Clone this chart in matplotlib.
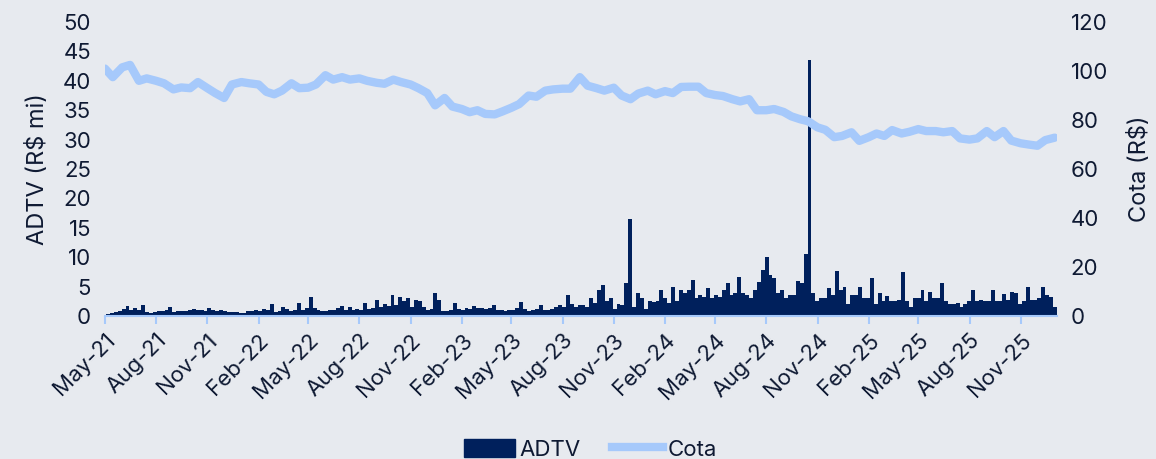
import matplotlib
matplotlib.use("Agg")
import matplotlib.pyplot as plt
import matplotlib.dates as mdates
from matplotlib.lines import Line2D
from matplotlib.patches import Patch
import pandas as pd

BG = "#e7eaef"
NAVY = "#00205c"
LIGHT = "#a6c9fb"
TXT = "#0f1a33"

# ADTV (R$ mi), weekly, from first week of May-21
adtv = [
    0.4, 0.5, 0.7, 0.8, 1.2, 1.7, 1.0, 1.3, 1.1, 1.9, 0.6, 0.5, 0.7,
    0.9, 0.8, 1.0, 1.5, 0.7, 0.8, 0.9, 0.8, 1.1, 1.2, 1.0, 1.1, 0.9,
    1.3, 1.0, 0.9, 1.1, 0.9, 0.7, 0.6, 0.7, 0.5, 0.5, 0.8, 0.9, 1.0,
    0.9, 1.2, 1.0, 2.0, 0.6, 0.8, 1.5, 1.2, 0.9, 1.0, 2.2, 1.0, 1.3,
    3.3, 1.3, 1.0, 0.8, 0.9, 1.1, 1.0, 1.3, 1.7, 1.0, 1.5, 1.1, 1.2,
    1.0, 2.2, 1.2, 1.3, 2.8, 1.5, 2.0, 1.7, 3.6, 1.8, 3.2, 2.5, 3.0,
    1.5, 2.8, 2.6, 1.5, 1.0, 1.2, 4.0, 2.8, 0.8, 0.9, 1.0, 2.2, 1.2,
    1.1, 1.3, 1.2, 1.7, 1.3, 1.4, 1.2, 1.3, 1.9, 1.0, 1.1, 0.9, 1.1,
    1.0, 1.4, 2.4, 1.2, 0.8, 1.0, 1.2, 1.9, 1.1, 1.0, 1.2, 1.5, 1.9,
    1.6, 3.6, 2.0, 1.5, 1.8, 1.9, 1.6, 3.0, 2.2, 4.4, 5.3, 2.5, 3.0,
    1.2, 2.0, 1.8, 5.7, 16.5, 1.5, 3.9, 3.0, 1.2, 2.5, 2.3, 2.6, 4.5,
    3.0, 2.2, 5.0, 2.5, 4.4, 4.0, 4.4, 6.1, 3.0, 3.5, 3.2, 4.7, 3.0,
    3.5, 3.2, 4.5, 5.6, 3.5, 4.0, 6.7, 4.0, 3.5, 3.0, 4.5, 5.8, 7.8,
    10.1, 7.0, 6.4, 4.0, 4.5, 3.0, 3.5, 3.5, 6.0, 5.6, 10.5, 43.5, 4.0,
    2.5, 3.0, 3.0, 4.7, 3.5, 7.7, 4.5, 5.0, 2.0, 3.5, 3.5, 5.0, 3.0,
    3.0, 6.5, 2.0, 3.9, 2.5, 3.4, 2.5, 2.5, 2.8, 7.5, 2.5, 1.5, 3.0,
    3.0, 4.4, 2.5, 4.1, 3.0, 3.0, 5.7, 2.5, 2.0, 2.0, 2.2, 1.5, 2.0,
    2.5, 4.4, 2.5, 2.7, 2.5, 2.5, 4.5, 2.5, 2.5, 3.7, 2.8, 4.1, 4.0,
    2.0, 2.6, 4.9, 2.8, 2.8, 3.0, 5.0, 3.5, 3.2, 1.5,
]

# Cota (R$), twice a month
cota = [
    101, 97.5, 101.5, 102.5, 96, 97, 96, 95, 92.5, 93.3, 93, 95.5,
    93, 91, 89, 94.5, 95.5, 95, 94.5, 91.5, 90.5, 92, 95, 93,
    93.2, 94.5, 98.3, 96.5, 97.5, 96.5, 97, 96, 95.2, 94.8, 96.5, 95.5,
    94.5, 93, 91, 86, 89, 85.5, 84.5, 83.2, 84, 82.5, 82.3, 83.5,
    85, 86.5, 90, 89.5, 92, 92.5, 92.8, 92.8, 97.5, 94, 93, 92,
    93.2, 90, 88.5, 90.8, 92, 90.5, 91.8, 91, 93.5, 93.6, 93.6, 91,
    90.2, 89.8, 88.5, 87.6, 88.5, 84, 84, 84.5, 83.3, 81.5, 80.3, 79.5,
    77, 76, 73, 73.5, 75, 71.5, 73, 74.5, 73.5, 75.9, 74.5, 75.2,
    76.3, 75.5, 75.5, 75, 75.5, 72.5, 72, 72.5, 75.5, 73, 75.5, 71.6,
    70.5, 70, 69.5, 71.8, 72.8,
]

adtv_dates = pd.date_range("2021-05-03", periods=len(adtv), freq="W-MON")
cota_dates = pd.date_range("2021-05-01", periods=len(cota), freq="SMS")
tick_dates = pd.date_range("2021-05-01", "2025-11-01", freq="3MS")

plt.rcParams["font.family"] = ["Inter", "DejaVu Sans"]

fig = plt.figure(figsize=(11.56, 4.59), dpi=100, facecolor=BG)
ax = fig.add_axes((0.0908, 0.3115, 0.8235, 0.6405), facecolor=BG)
ax2 = ax.twinx()

ax.bar(adtv_dates, adtv, width=7, color=NAVY, align="edge", zorder=2)
ax2.plot(cota_dates, cota, color=LIGHT, lw=6, solid_capstyle="round",
         solid_joinstyle="round", zorder=3)

ax.set_ylim(0, 50)
ax.set_yticks(range(0, 51, 5))
ax2.set_ylim(0, 120)
ax2.set_yticks(range(0, 121, 20))
ax.set_xlim(pd.Timestamp("2021-05-01"), adtv_dates[-1] + pd.Timedelta(days=7))

ax.set_xticks(tick_dates)
ax.xaxis.set_major_formatter(mdates.DateFormatter("%b-%y"))
for lbl in ax.get_xticklabels():
    lbl.set_rotation(45)
    lbl.set_ha("right")
    lbl.set_rotation_mode("anchor")

for a in (ax, ax2):
    for s in a.spines.values():
        s.set_visible(False)
    a.tick_params(axis="y", length=0, labelsize=16, colors=TXT, pad=10)
ax.spines["bottom"].set_visible(True)
ax.spines["bottom"].set_color(LIGHT)
ax.spines["bottom"].set_linewidth(1.5)
ax.tick_params(axis="x", length=6, width=1.5, color=LIGHT, labelsize=16,
               labelcolor=TXT, pad=4)

ax.set_ylabel("ADTV (R$ mi)", fontsize=17, color=TXT, labelpad=10)
ax2.set_ylabel("Cota (R$)", fontsize=17, color=TXT, labelpad=14)

handles = [Patch(facecolor=NAVY, edgecolor=NAVY),
           Line2D([0], [0], color=LIGHT, lw=6)]
fig.legend(handles, ["ADTV", "Cota"], loc="lower center",
           bbox_to_anchor=(0.511, -0.045), ncol=2, frameon=False,
           fontsize=16, handlelength=2.3, handleheight=0.9,
           columnspacing=1.4, labelcolor=TXT, handletextpad=0.2)

fig.savefig("out.png", dpi=100, facecolor=BG)
